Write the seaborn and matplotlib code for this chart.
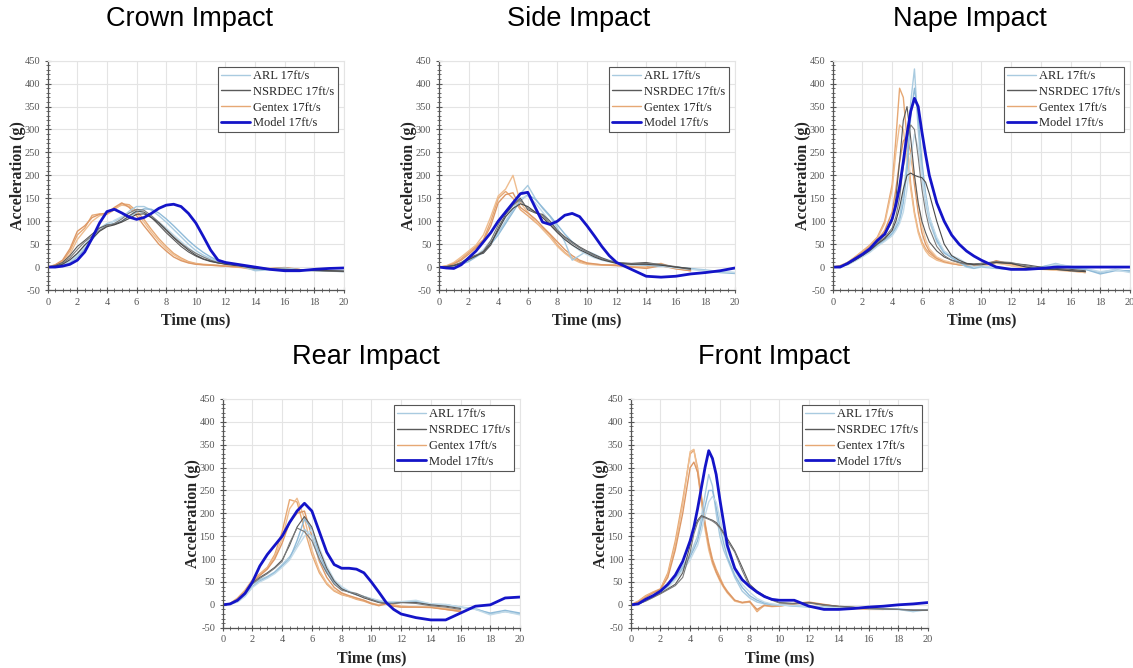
import numpy as np
import matplotlib
matplotlib.use("Agg")
import matplotlib.pyplot as plt
import seaborn as sns
from matplotlib.ticker import MultipleLocator
from matplotlib.lines import Line2D

# ---------------- data ----------------
GRID_A = [0, 0.5, 1, 1.5, 2, 2.5, 3, 3.5, 4, 4.5, 5, 5.5, 6, 6.5, 7, 7.5, 8, 8.5,
          9, 9.5, 10, 10.5, 11, 11.5, 12, 13, 14, 15, 16, 17, 18, 19, 20]
GRID_B = [0, 0.5, 1, 1.5, 2, 2.5, 3, 3.5, 4, 4.25, 4.5, 4.75, 5, 5.25, 5.5, 5.75,
          6, 6.25, 6.5, 7, 7.5, 8, 8.5, 9, 9.5, 10, 11, 12, 13, 14, 15, 16, 17, 18, 19, 20]

# Crown impact (GRID_A)
crown_model = [0, 0, 2, 6, 15, 33, 63, 96, 121, 126, 118, 109, 104, 108, 117, 128, 135, 137, 132, 117,
               96, 67, 37, 15, 10, 5, 0, -5, -8, -8, -5, -3, -2]
crown_arl1 = [0, 2, 6, 14, 28, 48, 68, 85, 95, 100, 108, 122, 132, 132, 124, 112, 98, 82, 66, 50,
              36, 26, 18, 12, 8, 3, -8, -6, -6, -7, -8, -9, -10]
crown_arl2 = [0, 1, 4, 10, 22, 40, 60, 80, 92, 95, 100, 110, 120, 127, 126, 118, 105, 90, 74, 58,
              44, 32, 22, 14, 9, 4, -5, -4, -2, -6, -7, -8, -9]
crown_arl3 = [0, 2, 5, 12, 25, 45, 65, 82, 90, 102, 110, 118, 122, 118, 110, 98, 85, 70, 56, 42,
              30, 22, 16, 11, 7, 2, -3, -5, -3, -6, -7, -8, -9]
crown_nsr1 = [0, 3, 10, 25, 45, 58, 72, 85, 92, 93, 100, 112, 122, 120, 108, 92, 75, 60, 45, 33,
              24, 17, 12, 9, 7, 4, 0, -4, -5, -6, -7, -8, -9]
crown_nsr2 = [0, 2, 8, 20, 38, 55, 68, 80, 90, 95, 105, 118, 126, 124, 112, 98, 82, 66, 52, 40,
              30, 22, 15, 10, 7, 3, -2, -5, -6, -7, -8, -9, -10]
crown_nsr3 = [0, 2, 6, 16, 30, 48, 62, 78, 88, 92, 98, 106, 115, 116, 108, 96, 80, 64, 50, 37,
              26, 18, 13, 9, 6, 2, -3, -5, -5, -6, -7, -8, -9]
crown_gen1 = [0, 4, 12, 35, 70, 85, 113, 116, 115, 125, 138, 136, 122, 104, 82, 62, 45, 30, 20, 12,
              8, 6, 5, 4, 2, 0, -5, -4, -2, -6, -7, -8, -9]
crown_gen2 = [0, 3, 10, 28, 60, 80, 100, 112, 116, 128, 135, 133, 118, 98, 76, 57, 40, 27, 17, 10,
              7, 5, 4, 3, 2, -1, -6, -4, -2, -6]
crown_gen3 = [0, 5, 15, 40, 78, 90, 108, 115, 118, 130, 140, 130, 112, 90, 70, 50, 35, 22, 14, 9,
              6, 5, 4, 3, 2, 0, -4, -3, -1, -5]

# Side impact (GRID_A)
side_model = [0, -2, -3, 5, 20, 35, 55, 75, 100, 120, 140, 160, 163, 130, 98, 93, 100, 113, 117, 110,
              90, 68, 45, 25, 10, -5, -20, -22, -20, -15, -12, -8, -2]
side_arl1 = [0, 1, 3, 7, 15, 25, 35, 55, 75, 100, 125, 160, 178, 150, 128, 110, 85, 55, 15, 25,
             35, 28, 20, 15, 10, 5, 5, 2, 0, -3, -6, -10, -12]
side_arl2 = [0, 1, 2, 6, 12, 22, 32, 50, 70, 95, 120, 145, 158, 148, 130, 112, 92, 72, 55, 42,
             32, 24, 18, 13, 9, 6, 4, 2, 0, -4, -8, -12, -14]
side_arl3 = [0, 1, 3, 8, 16, 26, 38, 58, 82, 108, 135, 150, 155, 140, 120, 100, 80, 62, 48, 36,
             27, 20, 15, 11, 8, 5, 6, 3, -2, -5, -8, -10, -12]
side_nsr1 = [0, 1, 4, 10, 20, 26, 30, 48, 85, 115, 135, 150, 125, 118, 115, 100, 80, 66, 55, 44,
             35, 27, 20, 14, 10, 8, 10, 5, 0, -5]
side_nsr2 = [0, 1, 3, 9, 18, 25, 35, 58, 92, 122, 140, 145, 128, 120, 112, 95, 78, 64, 52, 42,
             33, 25, 18, 13, 9, 7, 8, 6, 1, -4]
side_nsr3 = [0, 1, 3, 8, 16, 24, 33, 52, 80, 110, 128, 138, 132, 120, 108, 92, 75, 60, 48, 38,
             30, 22, 16, 12, 8, 6, 6, 4, 0, -3]
side_gen1 = [0, 2, 8, 18, 32, 45, 60, 100, 150, 165, 150, 125, 112, 98, 85, 70, 48, 32, 20, 12,
             8, 6, 5, 5, 5, 0, 0, 8, -3, -8]
side_gen2 = [0, 3, 10, 22, 35, 48, 70, 110, 155, 170, 200, 140, 120, 100, 82, 65, 45, 30, 18, 10,
             6, 5, 4, 4, 4, 2, -2, 5, -2, -6]
side_gen3 = [0, 2, 7, 15, 28, 42, 58, 90, 140, 158, 162, 130, 118, 105, 88, 72, 55, 38, 25, 15,
             9, 7, 5, 4, 3, 0, -3, 3, -4, -8]

# Nape impact (GRID_B)
nape_model = [0, 0, 8, 18, 28, 40, 58, 72, 105, 135, 175, 230, 290, 340, 368, 350, 295, 245, 200, 140,
              100, 70, 50, 35, 24, 15, 0, -5, -5, -3, 0, 0, 0, 0, 0, 0]
nape_arl1 = [0, 1, 6, 15, 25, 35, 48, 60, 75, 90, 110, 160, 230, 360, 432, 300, 200, 140, 100, 55,
             30, 22, 10, 0, -3, 0, -3, -5, -3, 0, 8, 0, -5, -12, -5, -10]
nape_arl2 = [0, 1, 5, 14, 24, 34, 46, 58, 72, 85, 100, 140, 210, 330, 390, 330, 230, 160, 110, 60,
             32, 20, 12, 2, -2, 2, -2, -5, -3, 0, 5, -2, -5, -15, -8, -8]
nape_arl3 = [0, 1, 5, 13, 22, 32, 45, 56, 68, 80, 95, 120, 170, 240, 290, 260, 200, 150, 110, 65,
             35, 25, 18, 8, 0, 3, -2, -6, -4, -2, 6, 2, -3, -10, -6, -12]
nape_nsr1 = [0, 2, 8, 18, 28, 40, 55, 70, 100, 150, 230, 320, 350, 280, 200, 140, 100, 75, 55, 35,
             22, 15, 10, 8, 7, 8, 10, 8, 5, 0, -3, -5, -8]
nape_nsr2 = [0, 2, 7, 16, 26, 38, 52, 65, 85, 110, 150, 220, 280, 310, 300, 240, 170, 120, 85, 45,
             25, 15, 10, 6, 5, 8, 12, 10, 3, -2, -5, -8, -10]
nape_nsr3 = [0, 1, 6, 15, 25, 36, 50, 62, 80, 100, 130, 170, 200, 205, 200, 197, 195, 185, 160, 100,
             50, 25, 15, 8, 5, 5, 10, 8, 0, -5, -5, -8, -10]
nape_gen1 = [0, 3, 10, 22, 35, 48, 65, 100, 180, 280, 390, 370, 280, 180, 120, 80, 55, 40, 30, 18,
             12, 8, 5, 3, 2, 2, 12, 5, 0, -3, -5, -8, -10]
nape_gen2 = [0, 3, 10, 22, 34, 46, 62, 95, 170, 250, 310, 300, 240, 170, 115, 75, 50, 35, 25, 15,
             10, 7, 5, 3, 2, 2, 10, 3, -2, -4, -6, -8, -10]
nape_gen3 = [0, 2, 8, 20, 32, 44, 58, 80, 120, 170, 230, 275, 285, 250, 180, 120, 75, 50, 35, 20,
             12, 8, 5, 4, 3, 2, 14, 6, 0, -4, -6, -8, -12]
nape_gen4 = [0, 2, 8, 18, 30, 42, 55, 75, 105, 140, 180, 220, 250, 245, 200, 140, 90, 60, 40, 22,
             14, 10, 7, 5, 3, 2, 8, 4, -2, -5, -7, -9, -12]

# Rear impact (GRID_A)
rear_model = [0, 2, 10, 25, 50, 85, 110, 130, 150, 180, 205, 222, 205, 160, 115, 88, 80, 80, 78, 70,
              50, 28, 5, -10, -20, -28, -33, -33, -18, -3, 0, 15, 17]
rear_arl1 = [0, 2, 8, 22, 45, 55, 62, 72, 88, 105, 130, 165, 150, 100, 70, 48, 35, 28, 22, 18,
             12, 8, 5, 5, 5, 8, 2, 0, -5, -8, -20, -15, -20]
rear_arl2 = [0, 2, 7, 20, 40, 52, 60, 70, 85, 100, 140, 188, 165, 110, 75, 50, 36, 28, 22, 18,
             13, 9, 6, 6, 6, 6, 0, 0, -5, -10, -18, -12, -18]
rear_arl3 = [0, 1, 6, 18, 38, 50, 58, 68, 82, 98, 125, 150, 165, 125, 85, 55, 40, 30, 24, 18,
             14, 10, 7, 7, 7, 10, 2, 1, -5, -10, -22, -15, -22]
rear_nsr1 = [0, 2, 10, 25, 48, 60, 70, 82, 98, 130, 170, 193, 170, 120, 80, 52, 35, 28, 22, 15,
             10, 5, 3, 3, 5, 5, 0, -3, -8]
rear_nsr2 = [0, 2, 9, 24, 46, 58, 68, 80, 95, 135, 168, 160, 140, 100, 70, 45, 32, 28, 25, 18,
             12, 6, 3, 3, 5, 3, -2, -5, -10]
rear_gen1 = [0, 3, 15, 32, 55, 68, 82, 110, 160, 230, 225, 165, 110, 70, 45, 30, 22, 18, 12, 8,
             2, 0, 5, 0, -3, -5, -5, -10, -15]
rear_gen2 = [0, 3, 13, 30, 52, 66, 80, 105, 145, 210, 233, 190, 120, 75, 48, 32, 24, 18, 14, 10,
             4, 0, 4, -2, -5, -5, -5, -8, -12]
rear_gen3 = [0, 2, 12, 28, 50, 64, 78, 100, 135, 180, 200, 205, 150, 95, 60, 38, 26, 20, 15, 10,
             3, -2, 2, -3, -5, -5, -6, -10, -14]

# Front impact (GRID_B)
front_model = [0, 2, 12, 20, 30, 45, 65, 95, 140, 170, 210, 255, 300, 337, 320, 285, 230, 180, 130, 80,
               55, 40, 28, 18, 12, 10, 10, -3, -10, -10, -8, -5, -3, 0, 2, 5]
front_arl1 = [0, 2, 10, 18, 28, 42, 60, 85, 110, 130, 150, 190, 240, 285, 260, 200, 150, 120, 100, 60,
              30, 15, 6, 2, 0, 0, -3, -5, -5, -5, -6, -8, -10, -10, -15, -10]
front_arl2 = [0, 2, 9, 17, 27, 40, 58, 80, 105, 122, 140, 175, 215, 250, 250, 215, 170, 135, 105, 65,
              38, 20, 10, 4, 1, 0, -2, -4, -5, -5, -6, -8, -8, -9, -12, -11]
front_arl3 = [0, 2, 8, 16, 26, 38, 55, 75, 98, 115, 130, 160, 195, 225, 237, 225, 190, 150, 120, 75,
              45, 28, 14, 6, 2, 0, -2, -4, -5, -6, -7, -8, -9, -10, -13, -12]
front_nsr1 = [0, 2, 9, 17, 25, 35, 45, 70, 130, 165, 185, 195, 192, 188, 185, 180, 170, 158, 145, 118,
              82, 45, 30, 20, 12, 5, 3, 5, 0, -3, -5, -8, -9, -10, -12, -12]
front_nsr2 = [0, 2, 8, 16, 24, 33, 42, 60, 115, 155, 180, 193, 190, 187, 183, 177, 168, 155, 140, 115,
              75, 40, 26, 18, 10, 4, 2, 4, -1, -4, -6, -8, -9, -10, -11, -11]
front_gen1 = [0, 8, 20, 28, 35, 70, 140, 230, 330, 338, 300, 240, 180, 135, 100, 78, 60, 42, 30, 10,
              5, 8, -15, 0, -3, -3, 3, 5, 0, -5, -8, -10, -10]
front_gen2 = [0, 7, 18, 27, 33, 65, 130, 220, 335, 340, 290, 225, 165, 120, 90, 70, 52, 38, 26, 8,
              4, 6, -12, -2, -4, -3, 2, 4, 0, -4, -7, -9, -10]
front_gen3 = [0, 6, 16, 26, 34, 60, 120, 200, 300, 312, 290, 235, 175, 130, 95, 72, 55, 40, 28, 10,
              5, 7, -10, -1, -3, -2, 3, 6, 1, -4, -6, -8, -9]

TITLES = ["Crown Impact", "Side Impact", "Nape Impact", "Rear Impact", "Front Impact"]
LEGEND_LABELS = ["ARL 17ft/s", "NSRDEC 17ft/s", "Gentex 17ft/s", "Model 17ft/s"]
X_TICKS = [0, 2, 4, 6, 8, 10, 12, 14, 16, 18, 20]
Y_TICKS = [-50, 0, 50, 100, 150, 200, 250, 300, 350, 400, 450]

PANELS = [
    (GRID_A, [crown_arl1, crown_arl2, crown_arl3], [crown_nsr1, crown_nsr2, crown_nsr3],
     [crown_gen1, crown_gen2, crown_gen3], crown_model),
    (GRID_A, [side_arl1, side_arl2, side_arl3], [side_nsr1, side_nsr2, side_nsr3],
     [side_gen1, side_gen2, side_gen3], side_model),
    (GRID_B, [nape_arl1, nape_arl2, nape_arl3], [nape_nsr1, nape_nsr2, nape_nsr3],
     [nape_gen1, nape_gen2, nape_gen3, nape_gen4], nape_model),
    (GRID_A, [rear_arl1, rear_arl2, rear_arl3], [rear_nsr1, rear_nsr2],
     [rear_gen1, rear_gen2, rear_gen3], rear_model),
    (GRID_B, [front_arl1, front_arl2, front_arl3], [front_nsr1, front_nsr2],
     [front_gen1, front_gen2, front_gen3], front_model),
]

# ---------------- style ----------------
sns.set_theme(style="whitegrid")
plt.rcParams['font.family'] = ['Liberation Serif', 'DejaVu Serif']
plt.rcParams['axes.unicode_minus'] = False
plt.rcParams['lines.solid_joinstyle'] = 'round'
plt.rcParams['lines.solid_capstyle'] = 'round'

ARL_COLORS = ["#a9cbe0", "#8fbad8", "#c3dbe9"]
NSR_COLORS = ["#5a5a5a", "#7a7a7a", "#4a4a4a"]
GEN_COLORS = ["#e6a874", "#efbd8f", "#dd9866", "#f2c8a0"]
MODEL_COLOR = "#1414c8"

W, H = 1133, 668
fig = plt.figure(figsize=(W / 100, H / 100), dpi=100)

# axes pixel boxes: (left, top, right, bottom)
BOXES = [
    (47.7, 60.7, 344, 290),
    (439, 60.7, 735, 290),
    (832.7, 60.7, 1130, 290),
    (222.7, 399, 520, 627.7),
    (630.7, 399, 928, 627.7),
]
TITLE_POS = [(190, 19), (579, 19), (970, 19), (366, 357), (774, 357)]


def draw(ax, grid, arls, nsrs, gens, model):
    for i, v in enumerate(gens):
        sns.lineplot(x=grid[:len(v)], y=v, ax=ax, color=GEN_COLORS[i % 4], linewidth=1.0,
                     estimator=None, sort=False, legend=False)
    for i, v in enumerate(arls):
        sns.lineplot(x=grid[:len(v)], y=v, ax=ax, color=ARL_COLORS[i % 3], linewidth=1.0,
                     estimator=None, sort=False, legend=False)
    for i, v in enumerate(nsrs):
        sns.lineplot(x=grid[:len(v)], y=v, ax=ax, color=NSR_COLORS[i % 3], linewidth=0.8,
                     estimator=None, sort=False, legend=False)
    sns.lineplot(x=grid[:len(model)], y=model, ax=ax, color=MODEL_COLOR, linewidth=2.0,
                 estimator=None, sort=False, legend=False)

    ax.set_xlim(0, 20)
    ax.set_ylim(-50, 450)
    ax.set_xticks(X_TICKS)
    ax.set_yticks(Y_TICKS)
    ax.xaxis.set_minor_locator(MultipleLocator(0.5))
    ax.yaxis.set_minor_locator(MultipleLocator(10))
    ax.grid(True, which='major', color='#e4e4e4', linewidth=0.8)
    ax.grid(False, which='minor')
    ax.set_axisbelow(True)
    for s in ['top', 'right']:
        ax.spines[s].set_color('#e4e4e4')
        ax.spines[s].set_linewidth(0.8)
    for s in ['left', 'bottom']:
        ax.spines[s].set_color('#555555')
        ax.spines[s].set_linewidth(0.9)
    ax.tick_params(which='major', direction='inout', length=5, width=0.8, color='#555555',
                   labelsize=7.5, labelcolor='#555555', left=True, bottom=True, pad=3)
    ax.tick_params(which='minor', direction='inout', length=3, width=0.6, color='#555555',
                   left=True, bottom=True)
    ax.set_xlabel("Time (ms)", fontsize=11.5, fontweight='bold', labelpad=4)
    ax.set_ylabel("Acceleration (g)", fontsize=11.5, fontweight='bold', labelpad=-1)

    handles = [Line2D([], [], color=ARL_COLORS[0], lw=1.0),
               Line2D([], [], color=NSR_COLORS[0], lw=1.0),
               Line2D([], [], color=GEN_COLORS[0], lw=1.0),
               Line2D([], [], color=MODEL_COLOR, lw=2.0)]
    leg = ax.legend(handles, LEGEND_LABELS, loc='upper right', fontsize=9, frameon=True,
                    fancybox=False, framealpha=1, edgecolor='#555555', borderpad=0.25,
                    handletextpad=0.3, labelspacing=0.3, borderaxespad=0.5, handlelength=2.3)
    leg.get_frame().set_linewidth(0.8)


for (l, t, r, b), panel, title, (tx, ty) in zip(BOXES, PANELS, TITLES, TITLE_POS):
    ax = fig.add_axes([l / W, 1 - b / H, (r - l) / W, (b - t) / H])
    draw(ax, *panel)
    fig.text(tx / W, 1 - ty / H, title, ha='center', va='center', fontsize=19.5,
             family=['Liberation Sans', 'DejaVu Sans'], color='black')

fig.savefig("out.png", dpi=100, facecolor='white')
